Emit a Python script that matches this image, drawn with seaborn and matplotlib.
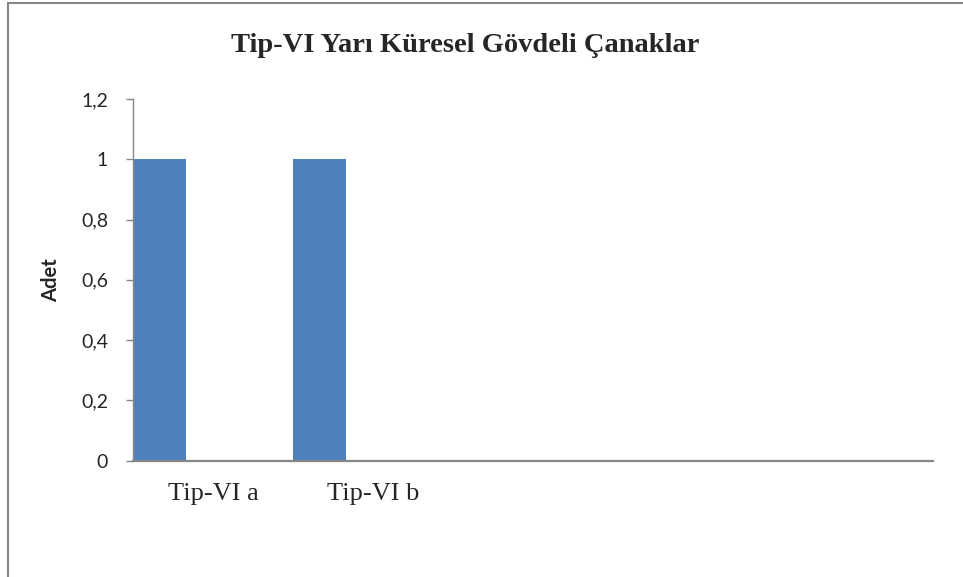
import pandas as pd
import matplotlib.pyplot as plt
import seaborn as sns
from matplotlib.patches import Rectangle

# chart data
categories = ["Tip-VI a", "Tip-VI b"]
series_names = ["Seri 1", "Seri 2", "Seri 3"]
series_1 = [1, 1]
series_2 = [0, 0]
series_3 = [0, 0]
y_ticks = [0, 0.2, 0.4, 0.6, 0.8, 1, 1.2]
y_tick_labels = ["0", "0,2", "0,4", "0,6", "0,8", "1", "1,2"]

df = pd.DataFrame({
    "Kategori": categories * 3,
    "Seri": [series_names[0]] * 2 + [series_names[1]] * 2 + [series_names[2]] * 2,
    "Adet": series_1 + series_2 + series_3,
})

sns.set_style("white")
plt.rcParams["font.family"] = ["Lato", "DejaVu Sans"]

fig = plt.figure(figsize=(9.63, 5.77), dpi=100)
ax = fig.add_axes([133 / 963, 1 - 460.7 / 577, 800 / 963, (460.7 - 99) / 577])

sns.barplot(data=df, x="Kategori", y="Adet", hue="Seri", order=categories,
            hue_order=series_names, palette=["#4F81BD"] * 3, saturation=1,
            width=1.0, linewidth=0, legend=False, ax=ax)

ax.set_xlim(-0.5, 4.5)
ax.set_ylim(0, 1.2)
ax.set_yticks(y_ticks)
ax.set_yticklabels(y_tick_labels, fontsize=14)
ax.set_xticks(range(len(categories)))
ax.set_xticklabels(categories, family="Liberation Serif", fontsize=19)
ax.tick_params(axis="x", length=0, pad=16)
ax.tick_params(axis="y", length=5, width=1, color="#868686", pad=13, left=True)
ax.set_xlabel("")
ax.set_ylabel("Adet", fontsize=14.5, fontweight="bold")
ax.yaxis.set_label_coords(-72 / 800, 0.5)

for side in ["top", "right"]:
    ax.spines[side].set_visible(False)
ax.spines["left"].set_color("#868686")
ax.spines["left"].set_linewidth(1)
ax.spines["bottom"].set_color("#868686")
ax.spines["bottom"].set_linewidth(1.6)

fig.text(465 / 963, 1 - 52 / 577, "Tip-VI Yarı Küresel Gövdeli Çanaklar",
         family="Liberation Serif", fontsize=20.5, fontweight="bold",
         ha="center", va="baseline")

# outer chart frame (cropped at right and bottom)
fig.patches.append(Rectangle((8 / 963, -0.1), 1.2, 1.1 - 3 / 577,
                             transform=fig.transFigure, fill=False,
                             edgecolor="#868686", linewidth=1.5))

fig.savefig("out.png", dpi=100)
